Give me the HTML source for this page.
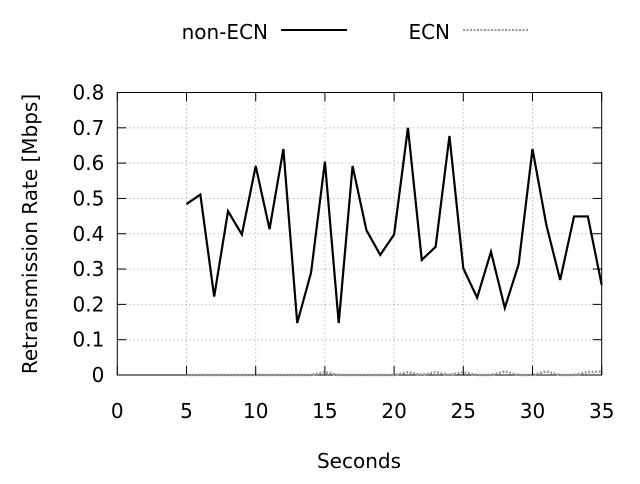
<!DOCTYPE html>
<html><head><meta charset="utf-8"><style>
body{margin:0;background:#fff;font-family:"DejaVu Sans","Liberation Sans",sans-serif;}
svg text{font-family:"DejaVu Sans","Liberation Sans",sans-serif;font-size:20px;fill:#000}
</style></head><body>
<svg id="chart" width="640" height="480" xmlns="http://www.w3.org/2000/svg">
<g id="grid"></g><g id="axes"></g><g id="series"></g>
<g>
<text x="268" y="39" text-anchor="end">non-ECN</text>
<line x1="281" y1="30" x2="347" y2="30" stroke="#000" stroke-width="2"/>
<text x="450" y="39" text-anchor="end">ECN</text>
<line x1="463" y1="30" x2="528" y2="30" stroke="#999" stroke-width="2" stroke-dasharray="2,1.5"/>
</g>
<text x="359" y="468" text-anchor="middle">Seconds</text>
<text transform="translate(37,234) rotate(-90)" text-anchor="middle">Retransmission Rate [Mbps]</text>
</svg>
<script>
const xSeconds=[5,6,7,8,9,10,11,12,13,14,15,16,17,18,19,20,21,22,23,24,25,26,27,28,29,30,31,32,33,34,35];
const nonEcn=[0.484,0.511,0.222,0.464,0.398,0.592,0.413,0.640,0.147,0.290,0.604,0.147,0.592,0.41,0.34,0.398,0.70,0.326,0.363,0.677,0.302,0.219,0.349,0.19,0.314,0.640,0.425,0.269,0.449,0.449,0.255];
const ecn=[0,0,0,0,0,0,0,0,0,0,0.008,0,0,0,0,0,0.008,0,0.008,0,0.008,0,0,0.01,0,0,0.01,0,0,0.008,0.01];
const xTicks=[0,5,10,15,20,25,30,35];
const yTicks=[0,0.1,0.2,0.3,0.4,0.5,0.6,0.7,0.8];
const L=117.3,R=601.7,T=92.5,B=375;
const xs=v=>L+(v-0)/35*(R-L), ys=v=>B-v/0.8*(B-T);
const NS='http://www.w3.org/2000/svg';
function mk(tag,attrs,parent,txt){const e=document.createElementNS(NS,tag);for(const k in attrs)e.setAttribute(k,attrs[k]);if(txt!==undefined)e.textContent=txt;document.getElementById(parent).appendChild(e);return e;}
yTicks.forEach(t=>{const y=ys(t);
 if(t>0&&t<0.8){const g=mk('line',{x1:L,x2:R,y1:y,y2:y,stroke:'#999','stroke-width':1,'stroke-dasharray':'1,3'},'grid');
 
 }
 const a=mk('line',{x1:L,x2:L+9,y1:y,y2:y,stroke:'#000'},'axes');
 const b=mk('line',{x1:R-9,x2:R,y1:y,y2:y,stroke:'#000'},'axes');
 const l=mk('text',{x:L-13,y:y+7,'text-anchor':'end'},'axes',t===0?'0':t.toFixed(1));
 
 });
xTicks.forEach(t=>{const x=xs(t);
 if(t>0&&t<35){const g=mk('line',{x1:x,x2:x,y1:T,y2:B,stroke:'#999','stroke-width':1,'stroke-dasharray':'1,3'},'grid');
 
 }
 const a=mk('line',{x1:x,x2:x,y1:B,y2:B-9,stroke:'#000'},'axes');
 const b=mk('line',{x1:x,x2:x,y1:T,y2:T+9,stroke:'#000'},'axes');
 const l=mk('text',{x:x,y:418,'text-anchor':'middle'},'axes',String(t));
 
 });
const box=mk('rect',{x:L,y:T,width:R-L,height:B-T,fill:'none',stroke:'#000','stroke-width':1},'axes');


const e=mk('polyline',{points:xSeconds.map((x,i)=>xs(x)+','+ys(ecn[i])).join(' '),fill:'none',stroke:'#999','stroke-width':2.5,'stroke-dasharray':'2,1.5'},'series');


const n=mk('polyline',{points:xSeconds.map((x,i)=>xs(x)+','+ys(nonEcn[i])).join(' '),fill:'none',stroke:'#000','stroke-width':2.2},'series');


</script>
</body></html>
